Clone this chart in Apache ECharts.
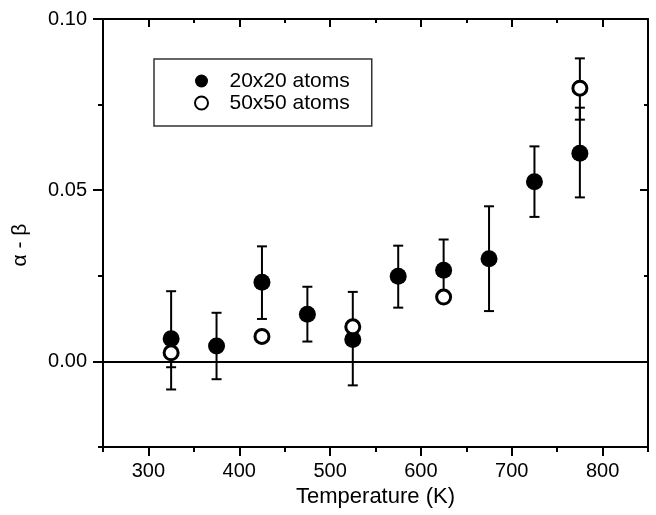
<!DOCTYPE html>
<html>
<head>
<meta charset="utf-8">
<script src="https://cdn.jsdelivr.net/npm/echarts@6/dist/echarts.min.js"></script>
<style>
  html, body { margin: 0; padding: 0; background: #fff; }
  #chart { width: 656px; height: 515px; }
</style>
</head>
<body>
<div id="chart"></div>
<script>
// data
const temps = [325, 375, 425, 475, 525, 575, 625, 675, 725, 775]
const small = [0.0066, 0.0045, 0.0231, 0.0138, 0.0064, 0.0249, 0.0266, 0.0300, 0.0525, 0.0608]
const smallLow = [-0.0082, -0.0052, 0.0124, 0.0058, -0.0070, 0.0157, 0.0176, 0.0147, 0.0422, 0.0479]
const smallHigh = [0.0205, 0.0142, 0.0336, 0.0218, 0.0203, 0.0338, 0.0356, 0.0453, 0.0628, 0.0741]

const tempsLarge = [325, 425, 525, 625, 775]
const large = [0.0025, 0.0073, 0.0101, 0.0188, 0.0798]
const largeLow = [-0.0017, 0.0066, 0.0092, 0.0180, 0.0706]
const largeHigh = [0.0067, 0.0080, 0.0110, 0.0196, 0.0885]

const xMajor = [300, 400, 500, 600, 700, 800]
const xMinor = [250, 350, 450, 550, 650, 750, 850]
const yMajor = [0, 0.05, 0.1]
const yMinor = [-0.025, 0.025, 0.075]

const font = 'Liberation Sans, Arial, Helvetica, sans-serif'
const black = '#000'

function errBar(params, api) {
  const x = api.value(0)
  const top = api.coord([x, api.value(2)])
  const bot = api.coord([x, api.value(1)])
  const w = 5
  const st = { stroke: black, lineWidth: 2 }
  return {
    type: 'group',
    children: [
      { type: 'line', shape: { x1: top[0], y1: top[1], x2: bot[0], y2: bot[1] }, style: st },
      { type: 'line', shape: { x1: top[0] - w, y1: top[1], x2: top[0] + w, y2: top[1] }, style: st },
      { type: 'line', shape: { x1: bot[0] - w, y1: bot[1], x2: bot[0] + w, y2: bot[1] }, style: st }
    ]
  }
}

// plain axis helper
function xAx(pos, ticks, len, inside, showLine, showLabel) {
  return {
    type: 'value', position: pos, min: 250, max: 850,
    axisLine: { show: showLine, onZero: false, lineStyle: { color: black, width: 2 } },
    axisTick: { show: true, customValues: ticks, length: len, inside: inside, lineStyle: { color: black, width: 2 } },
    axisLabel: showLabel
      ? { show: true, customValues: ticks, color: black, fontSize: 20, fontFamily: font, margin: 14 }
      : { show: false },
    splitLine: { show: false }
  }
}
function yAx(pos, ticks, len, inside, showLine, showLabel) {
  return {
    type: 'value', position: pos, min: -0.025, max: 0.1,
    axisLine: { show: showLine, onZero: false, lineStyle: { color: black, width: 2 } },
    axisTick: { show: true, customValues: ticks, length: len, inside: inside, lineStyle: { color: black, width: 2 } },
    axisLabel: showLabel
      ? { show: true, customValues: ticks, color: black, fontSize: 20, fontFamily: font, margin: 16,
          formatter: v => v.toFixed(2) }
      : { show: false },
    splitLine: { show: false }
  }
}

const xAxes = [
  xAx('bottom', xMajor, 9, false, true, true),
  xAx('bottom', xMinor, 5, false, false, false),
  xAx('top', xMajor, 8, true, true, false),
  xAx('top', xMinor, 4, true, false, false)
]
xAxes[0].name = 'Temperature (K)'
xAxes[0].nameLocation = 'middle'
xAxes[0].nameGap = 39
xAxes[0].nameTextStyle = { color: black, fontSize: 22, fontFamily: font }

const yAxes = [
  yAx('left', yMajor, 10, false, true, true),
  yAx('left', yMinor, 5, false, false, false),
  yAx('right', yMajor, 8, true, true, false),
  yAx('right', yMinor, 4, true, false, false)
]
yAxes[0].name = 'α - β'
yAxes[0].nameLocation = 'middle'
yAxes[0].nameGap = 72
yAxes[0].nameTextStyle = { color: black, fontSize: 21, fontFamily: font, padding: [0, 24, 0, 0] }

const chart = echarts.init(document.getElementById('chart'))
chart.setOption({
  animation: false,
  backgroundColor: '#fff',
  grid: { left: 103, right: 8, top: 19, bottom: 68 },
  legend: {
    left: 154, top: 59,
    orient: 'vertical',
    data: ['20x20 atoms', '50x50 atoms'],
    itemWidth: 46, itemHeight: 13, itemGap: 0,
    padding: [11, 22, 12, 40],
    borderColor: '#333', borderWidth: 1.5,
    textStyle: { color: black, fontSize: 21, fontFamily: font, lineHeight: 22 }
  },
  xAxis: xAxes,
  yAxis: yAxes,
  series: [
    {
      type: 'custom', name: 'err20', renderItem: errBar, z: 1, silent: true,
      data: temps.map((t, i) => [t, smallLow[i], smallHigh[i]])
    },
    {
      type: 'custom', name: 'err50', renderItem: errBar, z: 1, silent: true,
      data: tempsLarge.map((t, i) => [t, largeLow[i], largeHigh[i]])
    },
    {
      type: 'scatter', name: '20x20 atoms', z: 2,
      symbol: 'circle', symbolSize: 17,
      itemStyle: { color: black, opacity: 1 },
      data: temps.map((t, i) => [t, small[i]]),
      markLine: {
        silent: true, symbol: 'none', label: { show: false },
        lineStyle: { color: black, width: 2, type: 'solid' },
        data: [{ yAxis: 0 }]
      }
    },
    {
      type: 'scatter', name: '50x50 atoms', z: 3,
      symbol: 'circle', symbolSize: 14,
      itemStyle: { color: '#fff', borderColor: black, borderWidth: 3, opacity: 1 },
      data: tempsLarge.map((t, i) => [t, large[i]])
    }
  ]
})
</script>
</body>
</html>
